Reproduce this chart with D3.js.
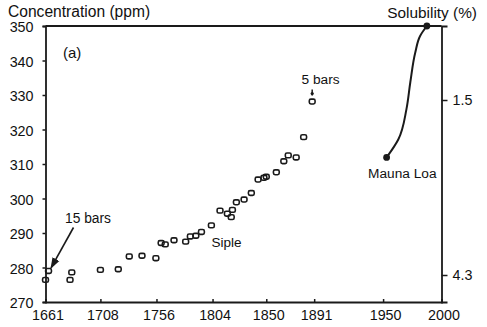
<!DOCTYPE html>
<html><head><meta charset="utf-8">
<script src="https://cdn.jsdelivr.net/npm/d3@7"></script>
<style>
html,body{margin:0;padding:0;background:#fff;}
svg{display:block;font-family:"Liberation Sans",Arial,sans-serif;}
</style></head>
<body><svg id="c" width="487" height="327"></svg>
<script>
// Siple ice-core record
const sipleYears = [1661,1663.6,1682,1683.5,1708,1723.3,1732.7,1743.6,1755.5,1760,1763.5,1771,1781,1785,1789.7,1794.5,1803,1810.4,1816.7,1820,1821,1824.4,1831,1837.2,1843,1848,1850,1858.6,1865,1868.8,1875.6,1882,1889.3];
const sipleConc  = [276.4,279.0,276.4,278.6,279.3,279.5,283.2,283.4,282.7,287.1,286.7,287.9,287.5,289.0,289.2,290.3,292.2,296.5,295.6,294.6,296.7,298.9,299.7,301.6,305.5,306.0,306.3,307.6,310.8,312.5,311.9,317.8,328.1];
// Mauna Loa curve
const mlYears = [1953,1963,1970,1973.3,1977.6,1981.8,1987.5];
const mlConc  = [311.9,317.1,325.9,333.7,342.4,347.2,350];
// axis ticks
const xTicks = [1661,1708,1756,1804,1850,1891,1950,2000];
const yTicks = [270,280,290,300,310,320,330,340,350];
const solTicks = [1.5,4.3];

const L=45.5, R=441.5, T=26, B=302;
const svg = d3.select("#c");
const x = d3.scaleLinear().domain([1661,2000]).range([L,R]);
const y = d3.scaleLinear().domain([270,350]).range([B,T]);
const ySol = d3.scaleLinear().domain([0.316,4.732]).range([T,B]);
const ink = "#1a1a1a";

// frame top
svg.append("line").attr("x1",L).attr("x2",R).attr("y1",T).attr("y2",T)
  .attr("stroke",ink).attr("stroke-width",1.8);

const fs = "14.3px";
// left axis
const gl = svg.append("g").attr("transform",`translate(${L},0)`)
  .call(d3.axisLeft(y).tickValues(yTicks).tickSize(3).tickPadding(9).tickFormat(d3.format("d")));
// bottom axis
const gb = svg.append("g").attr("transform",`translate(0,${B})`)
  .call(d3.axisBottom(x).tickValues(xTicks).tickSize(-3).tickPadding(8).tickFormat(d3.format("d")));
// right axis
const gr = svg.append("g").attr("transform",`translate(${R},0)`)
  .call(d3.axisRight(ySol).tickValues(solTicks).tickSize(6).tickPadding(5).tickFormat(d3.format(".1f")));
[gl,gb,gr].forEach(g=>{
  g.select(".domain").attr("stroke",ink).attr("stroke-width",1.8);
  g.selectAll(".tick line").attr("stroke",ink).attr("stroke-width",1.5);
  g.selectAll(".tick text").attr("fill","#111").style("font-size",fs).style("font-family","'Liberation Sans',Arial,sans-serif");
});
gb.selectAll(".tick text").attr("dx","2");
gl.selectAll(".tick text").attr("dy","0.4em");

// titles
svg.append("text").attr("x",8).attr("y",16.5).attr("fill","#111")
  .style("font-size","15.6px").text("Concentration (ppm)");
svg.append("text").attr("x",477).attr("y",17.5).attr("text-anchor","end").attr("fill","#111")
  .style("font-size","15.4px").text("Solubility (%)");
svg.append("text").attr("x",63).attr("y",58).attr("fill","#111")
  .style("font-size","15px").text("(a)");

// Mauna Loa curve
const mlData = mlYears.map((d,i)=>[d,mlConc[i]]);
svg.append("path").datum(mlData)
  .attr("d",d3.line().x(d=>x(d[0])).y(d=>y(d[1])).curve(d3.curveMonotoneY))
  .attr("fill","none").attr("stroke",ink).attr("stroke-width",2);
svg.selectAll("circle.ml").data([mlData[0],mlData[mlData.length-1]]).join("circle")
  .attr("class","ml").attr("cx",d=>x(d[0])).attr("cy",d=>y(d[1])).attr("r",3.4).attr("fill",ink);

// Siple markers
const sData = sipleYears.map((d,i)=>[d,sipleConc[i]]);
svg.selectAll("rect.s").data(sData).join("rect").attr("class","s")
  .attr("x",d=>x(d[0])-2.9).attr("y",d=>y(d[1])-2.4)
  .attr("width",5.8).attr("height",4.8).attr("rx",1.6)
  .attr("fill","none").attr("stroke",ink).attr("stroke-width",1.6);

// annotations
svg.append("defs").append("marker").attr("id","ah").attr("viewBox","0 0 10 10")
  .attr("refX",9).attr("refY",5).attr("markerWidth",7).attr("markerHeight",7).attr("orient","auto")
  .append("path").attr("d","M0,1.5 L10,5 L0,8.5 Z").attr("fill",ink);
const p15 = sData[1];
svg.append("line").attr("x1",73.5).attr("y1",227.5)
  .attr("x2",x(p15[0])+2.5).attr("y2",y(p15[1])-3)
  .attr("stroke",ink).attr("stroke-width",1.6).attr("marker-end","url(#ah)");
svg.append("text").attr("x",65).attr("y",223).attr("fill","#111").style("font-size","13.8px").text("15 bars");

const p5 = sData[sData.length-1];
svg.append("line").attr("x1",x(p5[0])).attr("x2",x(p5[0])).attr("y1",y(p5[1])-12).attr("y2",y(p5[1])-6)
  .attr("stroke",ink).attr("stroke-width",1.5);
svg.append("circle").attr("cx",x(p5[0])).attr("cy",y(p5[1])-8).attr("r",1.6).attr("fill",ink);
svg.append("text").attr("x",301.5).attr("y",84).attr("fill","#111").style("font-size","13.7px").text("5 bars");

svg.append("text").attr("x",211.5).attr("y",247).attr("fill","#111").style("font-size","13.5px").text("Siple");
svg.append("text").attr("x",368).attr("y",178).attr("fill","#111").style("font-size","13.7px").text("Mauna Loa");
</script></body></html>
